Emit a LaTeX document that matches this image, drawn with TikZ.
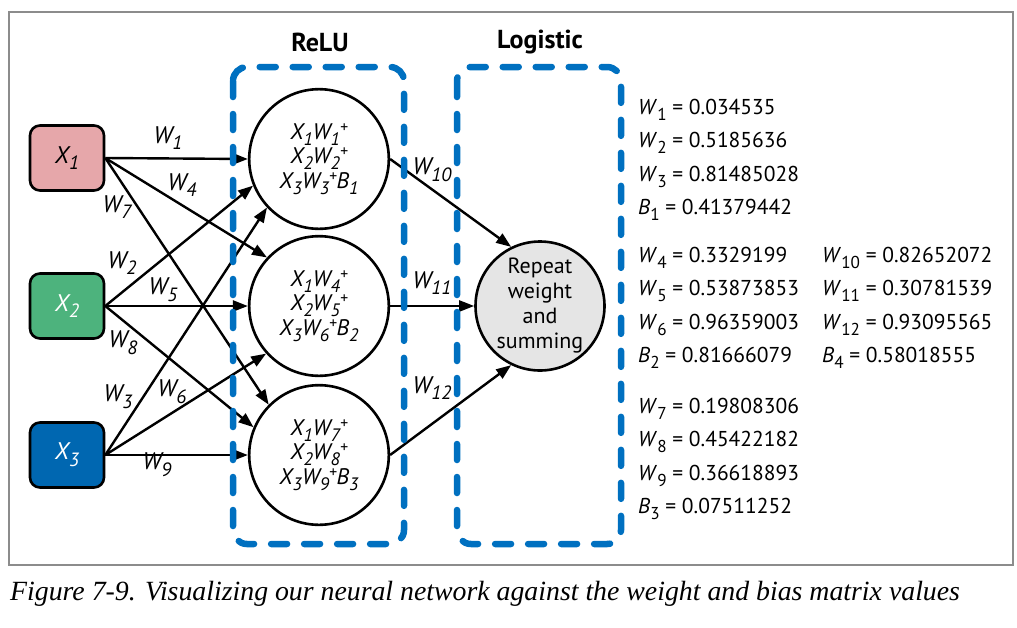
\documentclass[tikz,border=0pt]{standalone}
\usepackage{fontspec}
\setmainfont{PT Sans}
\newfontfamily\capfont{Liberation Serif}
\usetikzlibrary{arrows.meta}
\definecolor{xpink}{HTML}{E6A7AA}
\definecolor{xgreen}{HTML}{4DB37D}
\definecolor{xblue}{HTML}{0067B1}
\definecolor{dblue}{HTML}{0070C0}
\definecolor{ogray}{HTML}{E5E5E5}
\definecolor{framegray}{HTML}{8C8C8C}
\newcommand\lo[1]{\raisebox{-0.28em}{\scalebox{0.8}{#1}}}
\newcommand\pl{\raisebox{0.3em}{\scalebox{0.7}{+}}}
\newcommand\vw[1]{\textit{W}\lo{#1}}
\newcommand\vb[1]{\textit{B}\lo{#1}}
\newcommand\rows[3]{\parbox{120pt}{\centering\fontsize{22.5}{24.5}\selectfont\itshape\lineskiplimit=-20pt #1\par #2\par #3\par}}
\begin{document}
\begin{tikzpicture}[x=1pt,y=-1pt,
  inbox/.style={draw,line width=2.6pt,rounded corners=10pt,minimum width=74pt,minimum height=65pt,inner sep=0pt,font=\fontsize{24}{26}\selectfont\itshape},
  neuron/.style={draw,circle,line width=2.6pt,minimum size=134pt,inner sep=0pt,align=center},
  conn/.style={line width=2.4pt,-{Triangle[length=15pt,width=11pt]}},
  wlab/.style={font=\fontsize{24}{26}\selectfont\itshape,inner sep=0pt},
  dashbox/.style={draw=dblue,line width=6.5pt,line cap=round,dash pattern=on 16pt off 17pt,rounded corners=14pt},
  title/.style={font=\fontsize{26}{28}\selectfont\bfseries,inner sep=0pt},
  val/.style={font=\fontsize{21.5}{23}\selectfont,anchor=base west,inner sep=0pt}]
\useasboundingbox (0,0) rectangle (1017,627);
\draw[framegray, line width=1.5pt] (9,12) rectangle (1013,565);

\node[inbox,fill=xpink] (x1) at (67,158) {X\lo{1}};
\node[inbox,fill=xgreen,text=white] (x2) at (67,306) {X\lo{2}};
\node[inbox,fill=xblue,text=white] (x3) at (67,455) {X\lo{3}};

\node[neuron] (h1) at (319,159) {\rows{X\lo{1}W\lo{1}\pl}{X\lo{2}W\lo{2}\pl}{X\lo{3}W\lo{3}\pl B\lo{1}}};
\node[neuron] (h2) at (319,306) {\rows{X\lo{1}W\lo{4}\pl}{X\lo{2}W\lo{5}\pl}{X\lo{3}W\lo{6}\pl B\lo{2}}};
\node[neuron] (h3) at (319,455) {\rows{X\lo{1}W\lo{7}\pl}{X\lo{2}W\lo{8}\pl}{X\lo{3}W\lo{9}\pl B\lo{3}}};
\node[neuron,minimum size=129pt,fill=ogray,font=\fontsize{22}{25}\selectfont] (o) at (540,306) {Repeat\\weight\\and\\summing};

\draw[conn] (x1.east) -- (h1.west);
\draw[conn] (x1.east) -- (h2.137);
\draw[conn] (x1.east) -- (h3.135);
\draw[conn] (x2.east) -- (h1.202);
\draw[conn] (x2.east) -- (h2.west);
\draw[conn] (x2.east) -- (h3.157);
\draw[conn] (x3.east) -- (h1.223);
\draw[conn] (x3.east) -- (h2.222);
\draw[conn] (x3.east) -- (h3.west);
\draw[conn] (h1.east) -- (o.116);
\draw[conn] (h2.east) -- (o.west);
\draw[conn] (h3.east) -- (o.244);

\draw[dashbox] (233,67) rectangle (404,544);
\draw[dashbox] (457,67) rectangle (621,544);

\node[title] (relu) at (320,42) {ReLU};
\node[title] (logi) at (540,42) {Logistic};

\node[wlab] (l1) at (168,138) {W\lo{1}};
\node[wlab] (l4) at (182,185) {W\lo{4}};
\node[wlab] (l7) at (117,207) {W\lo{7}};
\node[wlab] (l2) at (122,263) {W\lo{2}};
\node[wlab] (l5) at (163,290) {W\lo{5}};
\node[wlab] (l8) at (123,343) {W\lo{8}};
\node[wlab] (l3) at (118,397) {W\lo{3}};
\node[wlab] (l6) at (172,392) {W\lo{6}};
\node[wlab] (l9) at (157,465) {W\lo{9}};
\node[wlab] (l10) at (432,170) {W\lo{10}};
\node[wlab] (l11) at (432,283) {W\lo{11}};
\node[wlab] (l12) at (432,388) {W\lo{12}};

\foreach \t/\yy [count=\i] in {{\vw{1} = 0.034535}/114,{\vw{2} = 0.5185636}/147.5,{\vw{3} = 0.81485028}/181,{\vb{1} = 0.41379442}/214.5,
  {\vw{4} = 0.3329199}/262,{\vw{5} = 0.53873853}/295.5,{\vw{6} = 0.96359003}/329,{\vb{2} = 0.81666079}/362.5,
  {\vw{7} = 0.19808306}/413,{\vw{8} = 0.45422182}/446.5,{\vw{9} = 0.36618893}/480,{\vb{3} = 0.07511252}/513.5}
  \node[val] (v\i) at (638,\yy) {\t};
\foreach \t/\yy [count=\i] in {{\vw{10} = 0.82652072}/262,{\vw{11} = 0.30781539}/295.5,{\vw{12} = 0.93095565}/329,{\vb{4} = 0.58018555}/362.5}
  \node[val] (u\i) at (822,\yy) {\t};

\node[anchor=base west,inner sep=0pt,font=\fontsize{27.8}{30}\selectfont\capfont\itshape] (cap) at (10,600) {Figure 7-9. Visualizing our neural network against the weight and bias matrix values};
\end{tikzpicture}
\end{document}
